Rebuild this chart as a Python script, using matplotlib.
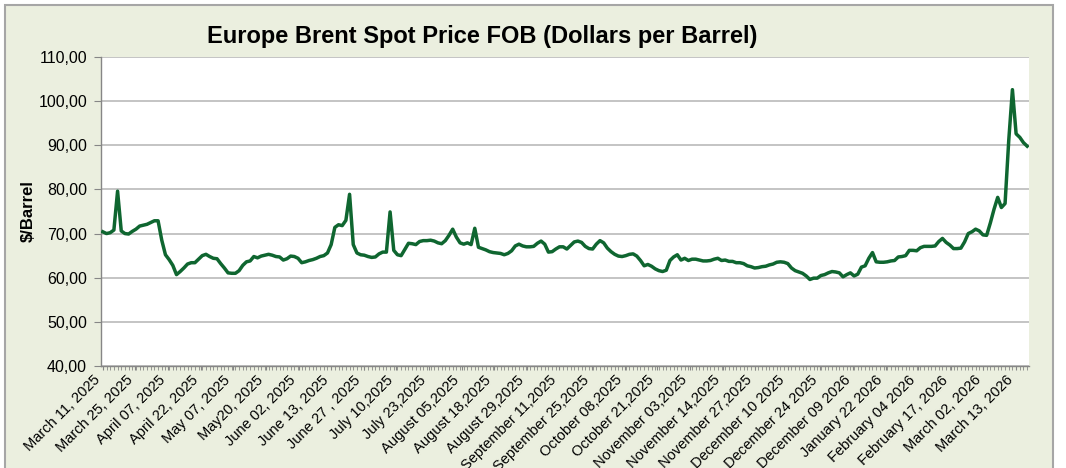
import matplotlib

matplotlib.use("Agg")
import matplotlib.pyplot as plt
import numpy as np
from matplotlib.patches import Rectangle
from matplotlib.ticker import FuncFormatter, MultipleLocator

# --- data ------------------------------------------------------------------
prices = [
    70.4, 70.0, 70.2, 70.8, 79.6, 70.6, 70.0, 69.9, 70.5, 71.0,
    71.7, 71.9, 72.1, 72.5, 72.9, 72.9, 68.5, 65.2, 64.1, 62.8,
    60.7, 61.4, 62.2, 63.1, 63.4, 63.4, 64.2, 65.0, 65.3, 64.8,
    64.4, 64.3, 63.2, 62.2, 61.1, 61.0, 61.0, 61.6, 62.8, 63.6,
    63.8, 64.8, 64.5, 64.9, 65.1, 65.3, 65.1, 64.8, 64.7, 64.0,
    64.3, 64.9, 64.8, 64.4, 63.4, 63.6, 63.9, 64.1, 64.4, 64.8,
    65.0, 65.6, 67.5, 71.4, 72.0, 71.8, 73.0, 78.9, 67.5, 65.6,
    65.2, 65.1, 64.8, 64.6, 64.7, 65.4, 65.8, 65.8, 74.9, 66.2,
    65.2, 65.0, 66.4, 67.8, 67.7, 67.5, 68.2, 68.4, 68.4, 68.5,
    68.3, 67.9, 67.7, 68.4, 69.6, 71.0, 69.2, 67.9, 67.6, 67.9,
    67.5, 71.2, 66.9, 66.6, 66.3, 65.9, 65.7, 65.6, 65.5, 65.2,
    65.5, 66.1, 67.2, 67.6, 67.2, 67.0, 67.0, 67.1, 67.8, 68.3,
    67.6, 65.8, 65.9, 66.5, 67.0, 67.0, 66.5, 67.3, 68.1, 68.3,
    68.0, 67.1, 66.6, 66.5, 67.6, 68.4, 67.9, 66.7, 65.9, 65.3,
    64.9, 64.8, 65.0, 65.3, 65.4, 64.9, 63.9, 62.7, 63.0, 62.6,
    62.0, 61.6, 61.4, 61.7, 63.9, 64.7, 65.2, 64.0, 64.4, 63.9,
    64.2, 64.2, 64.0, 63.8, 63.8, 63.9, 64.2, 64.4, 63.9, 64.0,
    63.7, 63.7, 63.4, 63.4, 63.2, 62.7, 62.5, 62.2, 62.3, 62.5,
    62.6, 62.9, 63.1, 63.5, 63.6, 63.5, 63.2, 62.2, 61.6, 61.3,
    61.0, 60.4, 59.6, 59.9, 59.9, 60.5, 60.7, 61.1, 61.4, 61.3,
    61.1, 60.2, 60.7, 61.1, 60.4, 60.8, 62.4, 62.7, 64.4, 65.7,
    63.6, 63.5, 63.5, 63.6, 63.8, 63.9, 64.7, 64.8, 65.0, 66.2,
    66.2, 66.1, 66.8, 67.1, 67.1, 67.1, 67.2, 68.2, 68.9, 68.0,
    67.4, 66.6, 66.6, 66.7, 68.1, 70.0, 70.4, 71.0, 70.6, 69.7,
    69.6, 72.4, 75.5, 78.2, 75.9, 76.8, 91.1, 102.6, 92.6, 91.8,
    90.6, 89.8,
]

date_labels = [
    "March 11, 2025", "March 25, 2025", "April 07, 2025", "April 22, 2025",
    "May 07, 2025", "May20, 2025", "June 02, 2025", "June 13, 2025",
    "June 27 , 2025", "July 10,2025", "July 23,2025", "August 05,2025",
    "August 18,2025", "August 29,2025", "September 11,2025",
    "September 25,2025", "October 08,2025", "October 21,2025",
    "November 03,2025", "November 14,2025", "November 27,2025",
    "December 10 2025", "December 24 2025", "December 09 2026",
    "January 22 2026", "February 04 2026", "February 17, 2026",
    "March 02, 2026", "March 13, 2026",
]

# --- style ------------------------------------------------------------------
LINE = "#0f6630"
PANEL = "#ebefdf"
FRAME = "#a6a6a6"
GRID = "#bababa"
AXIS = "#868686"

plt.rcParams["font.family"] = ["Liberation Sans", "DejaVu Sans"]

fig = plt.figure(figsize=(10.66, 4.68), dpi=100)
fig.patch.set_facecolor("white")
fig.patches.append(Rectangle(
    (5 / 1066, -0.02), 1048 / 1066, 1 - 5 / 468 + 0.02,
    transform=fig.transFigure, facecolor=PANEL, edgecolor=FRAME,
    linewidth=1.5, zorder=-10,
))

ax = fig.add_axes([101 / 1066, 1 - 366 / 468, 928 / 1066, 309 / 468])
ax.set_facecolor("white")

x = np.arange(len(prices))
ax.plot(x, prices, color=LINE, linewidth=2.5, solid_joinstyle="round", zorder=3)

ax.set_xlim(-0.5, len(prices) - 0.5)
ax.set_ylim(40, 110)
ax.yaxis.set_major_locator(MultipleLocator(10))
ax.yaxis.set_major_formatter(FuncFormatter(lambda v, _: f"{v:.2f}".replace(".", ",")))
ax.grid(axis="y", color=GRID, linewidth=1.2, zorder=0)

label_pos = np.linspace(0, 248, len(date_labels))
ax.set_xticks(label_pos)
ax.set_xticklabels(date_labels, rotation=45, ha="right", va="top", fontsize=10.5)
ax.set_xticks(x, minor=True)
ax.tick_params(axis="x", which="both", length=3, color=AXIS, pad=2)
ax.tick_params(axis="y", length=5, color=AXIS, labelsize=11.5, pad=5)

for side in ("top", "right"):
    ax.spines[side].set_visible(False)
for side in ("left", "bottom"):
    ax.spines[side].set_color(AXIS)
    ax.spines[side].set_linewidth(1.0)

ax.set_ylabel("$/Barrel", fontsize=12, fontweight="bold", labelpad=2)

fig.text(482 / 1066, 1 - 36 / 468, "Europe Brent Spot Price FOB (Dollars per Barrel)",
         ha="center", va="center", fontsize=17, fontweight="bold")

fig.savefig("out.png", dpi=100)
